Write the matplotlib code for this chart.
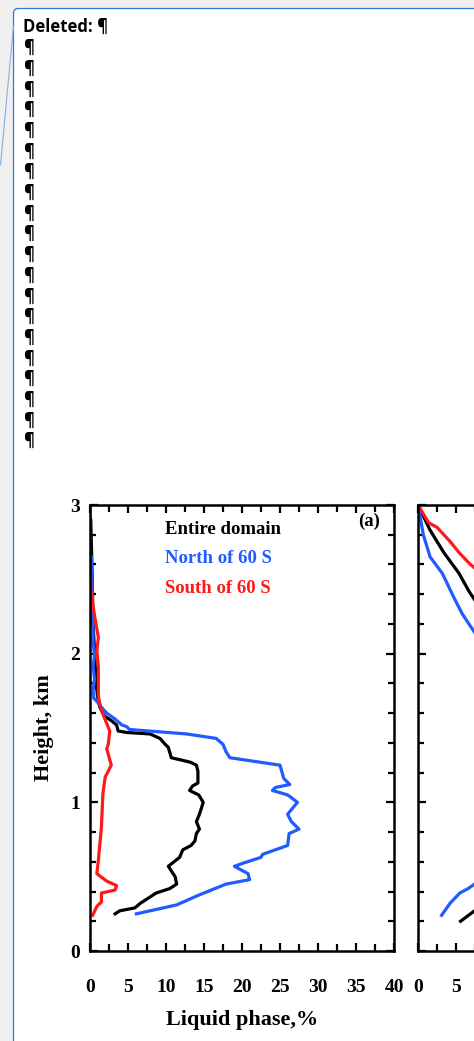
import matplotlib

matplotlib.use("Agg")
import matplotlib.pyplot as plt
from matplotlib.patches import FancyBboxPatch
from matplotlib.lines import Line2D
from matplotlib.transforms import IdentityTransform
from matplotlib.ticker import MultipleLocator, FuncFormatter

W, H = 474, 1041
DPI = 100

_PAGE = "#f0f0f0"
_BALLOON_EDGE = "#2b79d0"
_LINK = "#7fb0e6"
_BLUE = "#1f5bff"
_RED = "#ff1a1a"
_SERIF = ["Liberation Serif", "DejaVu Serif"]

# markup balloon text
balloon_title = "Deleted: ¶"
pilcrow_rows = 20

# panel (a): liquid phase fraction (%) against height (km)
north_h = [0.25, 0.31, 0.38, 0.45, 0.48, 0.52, 0.57, 0.59, 0.63, 0.65, 0.71, 0.79,
           0.82, 0.87, 0.92, 1.00, 1.05, 1.08, 1.10, 1.12, 1.16, 1.25, 1.30, 1.34,
           1.39, 1.43, 1.46, 1.49, 1.51, 1.52, 1.56, 1.60, 1.64, 1.68, 1.70, 1.75,
           1.83, 1.91, 1.99, 2.07, 2.22, 2.40, 2.65]
north_pct = [6.1, 11.4, 14.5, 17.9, 21.0, 20.8, 19.0, 20.1, 22.5, 22.7, 26.0, 26.2,
             27.5, 26.5, 26.0, 27.3, 26.0, 24.0, 24.4, 26.3, 25.5, 25.0, 18.4, 17.9,
             17.5, 16.6, 12.7, 5.2, 4.8, 4.2, 3.3, 2.2, 1.5, 0.9, 0.5, 0.4,
             0.6, 0.4, 0.6, 0.4, 0.4, 0.3, 0.2]

entire_h = [0.25, 0.27, 0.29, 0.32, 0.39, 0.42, 0.45, 0.50, 0.57, 0.59, 0.63, 0.68,
            0.71, 0.74, 0.79, 0.82, 0.87, 0.92, 1.00, 1.05, 1.08, 1.11, 1.13, 1.21,
            1.25, 1.27, 1.30, 1.37, 1.39, 1.43, 1.46, 1.47, 1.48, 1.52, 1.55, 1.58,
            1.64, 1.71, 1.80, 2.02, 2.20, 2.50, 2.90]
entire_pct = [3.3, 3.9, 5.9, 6.6, 8.7, 10.5, 11.4, 11.2, 10.3, 10.8, 11.8, 12.2,
              13.3, 13.8, 14.0, 14.4, 14.0, 14.4, 14.9, 14.3, 13.1, 13.5, 14.2, 14.2,
              14.0, 13.2, 10.7, 10.3, 9.9, 9.2, 7.9, 4.8, 3.7, 3.5, 2.8, 1.9,
              1.3, 1.0, 0.8, 0.6, 0.4, 0.3, 0.1]

south_h = [0.24, 0.30, 0.33, 0.39, 0.41, 0.44, 0.47, 0.52, 0.61, 0.83, 1.06, 1.17,
           1.25, 1.36, 1.39, 1.48, 1.53, 1.62, 1.71, 1.91, 2.02, 2.11, 2.24, 2.42,
           2.70, 3.00]
south_pct = [0.35, 0.9, 1.5, 1.5, 3.3, 3.5, 2.2, 0.9, 1.1, 1.5, 1.7, 2.0,
             2.8, 2.2, 2.4, 2.6, 2.2, 1.5, 1.1, 1.1, 0.9, 1.1, 0.65, 0.1,
             0.0, 0.0]

# panel (b): only the left edge is in view
b_south_h = [3.00, 2.88, 2.85, 2.80, 2.75, 2.68, 2.61, 2.55]
b_south_x = [0.0, 1.4, 2.5, 3.4, 4.3, 5.4, 6.7, 8.0]
b_entire_h = [3.00, 2.83, 2.68, 2.54, 2.42, 2.32]
b_entire_x = [0.0, 1.6, 3.4, 5.4, 6.7, 8.0]
b_north_h = [3.00, 2.80, 2.65, 2.54, 2.38, 2.27, 2.20, 2.10]
b_north_x = [0.0, 0.7, 1.6, 3.2, 4.7, 5.8, 6.7, 8.0]
b_north_low_h = [0.24, 0.32, 0.39, 0.42, 0.47]
b_north_low_x = [3.1, 4.2, 5.5, 6.6, 8.0]
b_entire_low_h = [0.20, 0.25, 0.31]
b_entire_low_x = [5.6, 6.9, 8.5]
b_labelled_ticks = [0, 5]

legend_labels = ["Entire domain", "North of 60 S", "South of 60 S"]
legend_colors = ["black", _BLUE, _RED]


def px_box(x0, y0, x1, y1):
    """Figure-fraction rect from pixel edges measured from the top-left."""
    return [x0 / W, 1 - y1 / H, (x1 - x0) / W, (y1 - y0) / H]


def style_axes(ax):
    ax.set_xlim(0, 40)
    ax.set_ylim(0, 3)
    ax.xaxis.set_major_locator(MultipleLocator(5))
    ax.xaxis.set_minor_locator(MultipleLocator(2.5))
    ax.yaxis.set_major_locator(MultipleLocator(1))
    ax.yaxis.set_minor_locator(MultipleLocator(0.2))
    for s in ax.spines.values():
        s.set_linewidth(1.8)
    ax.tick_params(which="both", direction="in", top=True, right=True,
                   width=1.6, labelsize=14)
    ax.tick_params(axis="x", which="major", length=6, pad=20)
    ax.tick_params(axis="x", which="minor", length=5)
    ax.tick_params(axis="y", which="major", length=6, pad=7)
    ax.tick_params(axis="y", which="minor", length=4)
    for lab in ax.get_xticklabels() + ax.get_yticklabels():
        lab.set_fontfamily(_SERIF)
        lab.set_fontweight("bold")


fig = plt.figure(figsize=(W / DPI, H / DPI), dpi=DPI)
fig.patch.set_facecolor(_PAGE)

# comment balloon, only its top-left corner falls inside the page
balloon = FancyBboxPatch((13.5, -60), 700, H - 8.5 + 60,
                         boxstyle="round,pad=0,rounding_size=5",
                         transform=IdentityTransform(), facecolor="white",
                         edgecolor=_BALLOON_EDGE, linewidth=0.9, zorder=-2)
fig.add_artist(balloon)
fig.add_artist(Line2D([13.5, 0.5], [H - 26, H - 165], transform=IdentityTransform(),
                      color=_LINK, linewidth=0.8, zorder=-1))

fig.text(23 / W, 1 - 27 / H, balloon_title, ha="left", va="center", fontsize=12,
         fontweight="bold", family=["Open Sans", "DejaVu Sans"])
for i in range(pilcrow_rows):
    fig.text(23 / W, 1 - (48 + i * 20.7) / H, "¶", ha="left", va="center",
             fontsize=12, fontweight="bold", family=["Open Sans", "DejaVu Sans"])

ax = fig.add_axes(px_box(90, 505, 394, 951))
ax.plot(entire_pct, entire_h, color="black", lw=2.3)
ax.plot(north_pct, north_h, color=_BLUE, lw=2.3)
ax.plot(south_pct, south_h, color=_RED, lw=2.3)
style_axes(ax)
ax.set_xlabel("Liquid phase,%", fontsize=16, fontweight="bold", family=_SERIF,
              labelpad=10)
ax.set_ylabel("Height, km", fontsize=16, fontweight="bold", family=_SERIF,
              labelpad=12)
for i, (lab, col) in enumerate(zip(legend_labels, legend_colors)):
    ax.text(0.247, 0.946 - i * 0.067, lab, transform=ax.transAxes, color=col,
            fontsize=13.5, fontweight="bold", family=_SERIF, va="center", ha="left")
ax.text(0.918, 0.964, "(a)", transform=ax.transAxes, fontsize=13.5,
        fontweight="bold", family=_SERIF, va="center", ha="center")

bx = fig.add_axes(px_box(418, 505, 722, 951))
bx.plot(b_entire_x, b_entire_h, color="black", lw=2.3)
bx.plot(b_north_x, b_north_h, color=_BLUE, lw=2.3)
bx.plot(b_south_x, b_south_h, color=_RED, lw=2.3)
bx.plot(b_north_low_x, b_north_low_h, color=_BLUE, lw=2.3)
bx.plot(b_entire_low_x, b_entire_low_h, color="black", lw=2.3)
style_axes(bx)
bx.xaxis.set_major_formatter(
    FuncFormatter(lambda v, _: f"{v:.0f}" if round(v) in b_labelled_ticks else ""))
bx.set_yticklabels([])

fig.savefig("out.png", dpi=DPI, facecolor=fig.get_facecolor())
